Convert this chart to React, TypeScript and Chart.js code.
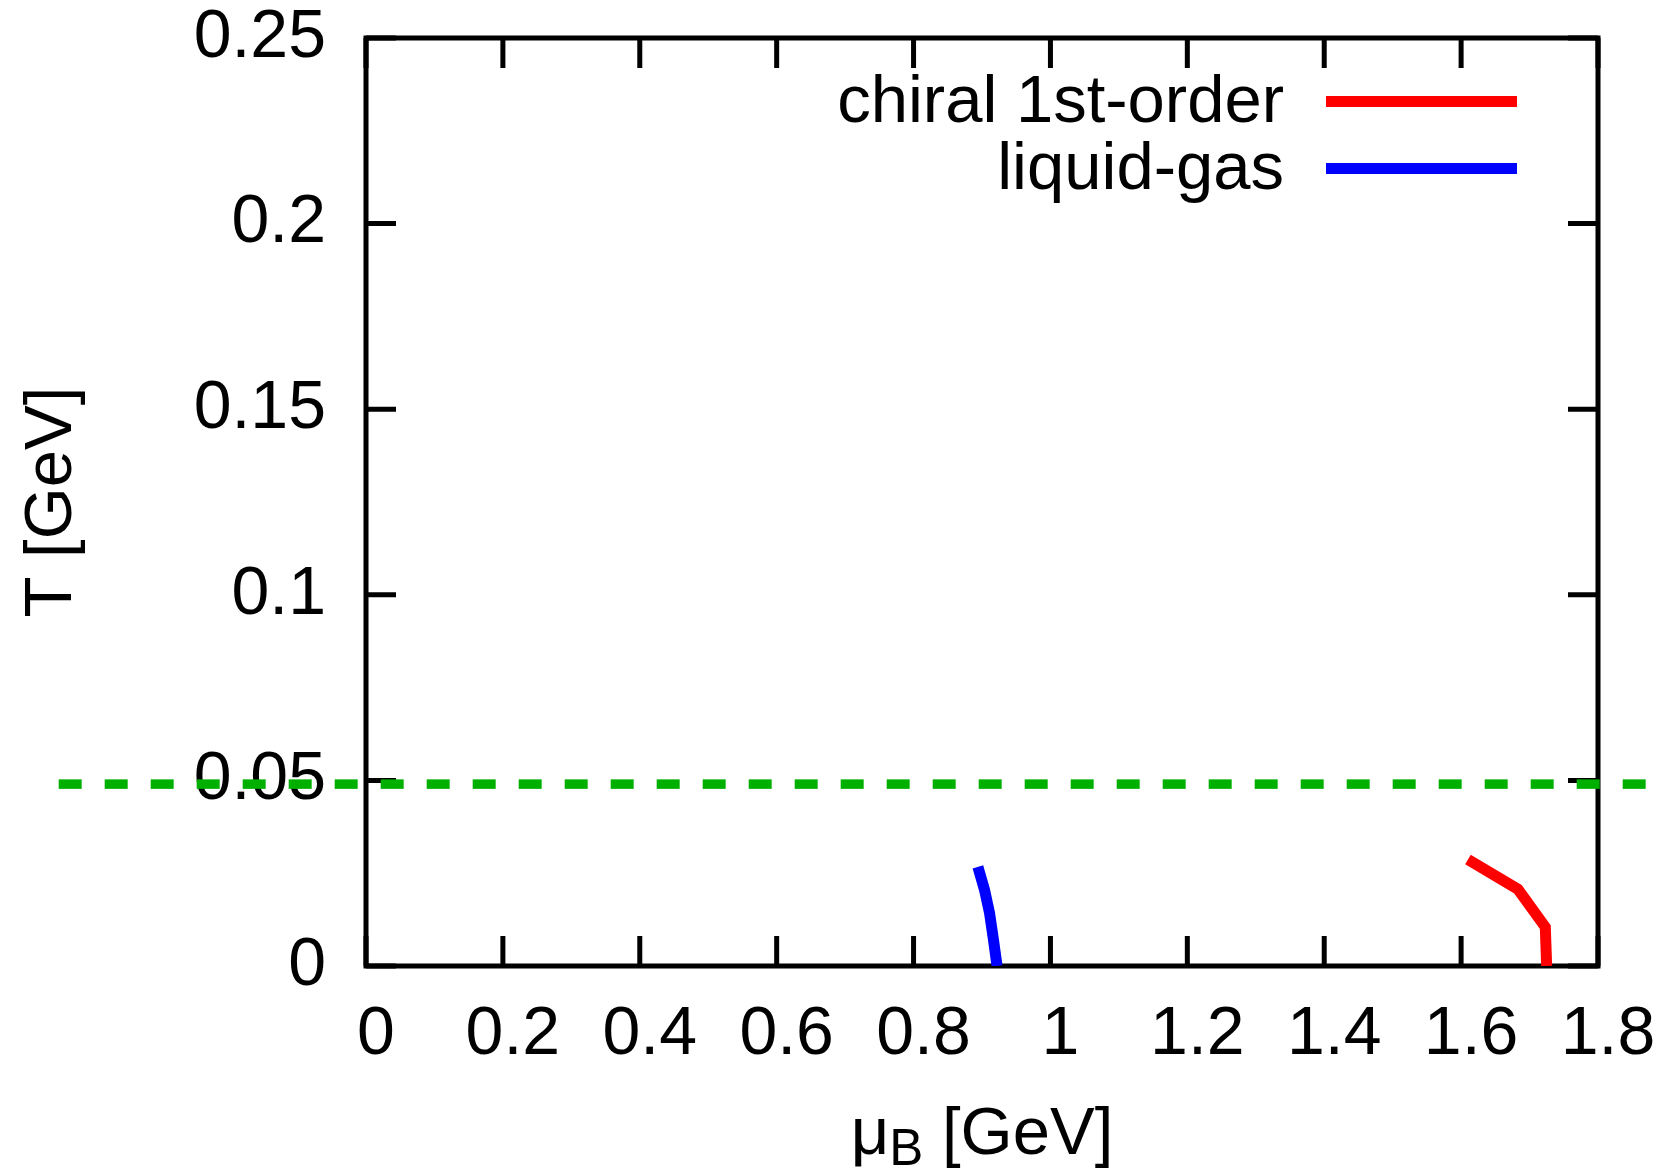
import React, { useEffect, useRef } from 'react';
import { Chart, registerables } from 'chart.js';

Chart.register(...registerables);

// ---- data ----
const xTickValues = [0, 0.2, 0.4, 0.6, 0.8, 1.0, 1.2, 1.4, 1.6, 1.8];
const xTickLabels = ['0', '0.2', '0.4', '0.6', '0.8', '1', '1.2', '1.4', '1.6', '1.8'];
const yTickValues = [0, 0.05, 0.1, 0.15, 0.2, 0.25];
const yTickLabels = ['0', '0.05', '0.1', '0.15', '0.2', '0.25'];

const chiralMu = [1.61, 1.683, 1.723, 1.725];
const chiralT = [0.0287, 0.0207, 0.0105, 0.0];
const liquidGasMu = [0.894, 0.9037, 0.911, 0.9168, 0.922];
const liquidGasT = [0.0267, 0.0205, 0.0143, 0.007, 0.0];
const refLineMu = [-0.449, 1.87];
const refLineT = [0.049, 0.049];

const seriesLabels = ['chiral 1st-order', 'liquid-gas'];
const seriesColors = ['#ff0000', '#0000ff'];
const refColor = '#00b000';

const xTitleMain = 'μ';
const xTitleSub = 'B';
const xTitleRest = ' [GeV]';
const yTitleText = 'T [GeV]';

const FONT = '"Liberation Sans", Arial, sans-serif';
const FS_TICK = 68;
const FS = 67;
const TICK = 30;

const toPoints = (xs: number[], ys: number[]) => xs.map((x, i) => ({ x, y: ys[i] }));

const frameTicksPlugin = {
  id: 'frameTicks',
  beforeDatasetsDraw(chart: any) {
    const { ctx, chartArea, scales } = chart;
    const { left, right, top, bottom } = chartArea;
    const xs = scales.x;
    const ys = scales.y;
    ctx.save();
    ctx.strokeStyle = '#000';
    ctx.lineWidth = 5;
    ctx.lineCap = 'butt';
    ctx.beginPath();
    xTickValues.forEach((v) => {
      const px = xs.getPixelForValue(v);
      ctx.moveTo(px, bottom);
      ctx.lineTo(px, bottom - TICK);
      ctx.moveTo(px, top);
      ctx.lineTo(px, top + TICK);
    });
    yTickValues.forEach((v) => {
      const py = ys.getPixelForValue(v);
      ctx.moveTo(left, py);
      ctx.lineTo(left + TICK, py);
      ctx.moveTo(right, py);
      ctx.lineTo(right - TICK, py);
    });
    ctx.stroke();
    ctx.lineJoin = 'miter';
    ctx.strokeRect(left, top, right - left, bottom - top);
    ctx.restore();
  },
};

const legendPlugin = {
  id: 'gpLegend',
  afterDatasetsDraw(chart: any) {
    const { ctx, chartArea } = chart;
    const { right, top } = chartArea;
    const rows = [63.5, 130.5];
    ctx.save();
    ctx.font = `${FS}px ${FONT}`;
    ctx.textAlign = 'right';
    ctx.textBaseline = 'middle';
    chart.data.datasets.forEach((ds: any, i: number) => {
      if (!ds.label) return;
      const y = top + rows[i];
      ctx.fillStyle = '#000';
      ctx.fillText(ds.label, right - 314, y + 2);
      ctx.strokeStyle = ds.borderColor;
      ctx.lineWidth = ds.borderWidth;
      ctx.lineCap = 'butt';
      ctx.beginPath();
      ctx.moveTo(right - 272, y);
      ctx.lineTo(right - 81, y);
      ctx.stroke();
    });
    ctx.restore();
  },
};

const xTitlePlugin = {
  id: 'xTitle',
  afterDraw(chart: any) {
    const { ctx, chartArea } = chart;
    const cx = (chartArea.left + chartArea.right) / 2;
    const baseY = 1154;
    const subFS = 51;
    ctx.save();
    ctx.fillStyle = '#000';
    ctx.textBaseline = 'alphabetic';
    ctx.textAlign = 'left';
    ctx.font = `${FS}px ${FONT}`;
    const w1 = ctx.measureText(xTitleMain).width;
    const w3 = ctx.measureText(xTitleRest).width;
    ctx.font = `${subFS}px ${FONT}`;
    const w2 = ctx.measureText(xTitleSub).width;
    let x = cx - (w1 + w2 + w3) / 2;
    ctx.font = `${FS}px ${FONT}`;
    ctx.fillText(xTitleMain, x, baseY);
    x += w1;
    ctx.font = `${subFS}px ${FONT}`;
    ctx.fillText(xTitleSub, x, baseY + 11);
    x += w2;
    ctx.font = `${FS}px ${FONT}`;
    ctx.fillText(xTitleRest, x, baseY);
    ctx.restore();
  },
};

export default function App() {
  const canvasRef = useRef<HTMLCanvasElement | null>(null);

  useEffect(() => {
    if (!canvasRef.current) return;
    const chart = new Chart(canvasRef.current, {
      type: 'scatter',
      data: {
        datasets: [
          {
            label: seriesLabels[0],
            data: toPoints(chiralMu, chiralT),
            showLine: true,
            borderColor: seriesColors[0],
            backgroundColor: seriesColors[0],
            borderWidth: 11,
            pointRadius: 0,
            tension: 0,
          },
          {
            label: seriesLabels[1],
            data: toPoints(liquidGasMu, liquidGasT),
            showLine: true,
            borderColor: seriesColors[1],
            backgroundColor: seriesColors[1],
            borderWidth: 11,
            pointRadius: 0,
            tension: 0,
          },
          {
            label: '',
            data: toPoints(refLineMu, refLineT),
            showLine: true,
            borderColor: refColor,
            backgroundColor: refColor,
            borderWidth: 9.5,
            borderDash: [23, 23],
            pointRadius: 0,
            clip: false as any,
          },
        ],
      },
      options: {
        animation: false,
        responsive: false,
        devicePixelRatio: 1,
        layout: { padding: { left: 0, top: 38, right: 70, bottom: 0 } },
        plugins: {
          legend: { display: false },
          tooltip: { enabled: false },
        },
        scales: {
          x: {
            type: 'linear',
            position: 'bottom',
            min: 0,
            max: 1.8,
            grid: { display: false, drawTicks: false },
            border: { display: false },
            afterBuildTicks: (scale: any) => {
              scale.ticks = xTickValues.map((v) => ({ value: v }));
            },
            afterFit: (scale: any) => {
              scale.height = 206;
              scale.paddingLeft = 0;
              scale.paddingRight = 0;
            },
            ticks: {
              autoSkip: false,
              maxRotation: 0,
              padding: 28,
              labelOffset: 10,
              color: '#000',
              font: { family: FONT, size: FS_TICK },
              callback: (_v: any, i: number) => xTickLabels[i],
            },
          },
          y: {
            type: 'linear',
            position: 'left',
            min: 0,
            max: 0.25,
            grid: { display: false, drawTicks: false },
            border: { display: false },
            afterBuildTicks: (scale: any) => {
              scale.ticks = yTickValues.map((v) => ({ value: v }));
            },
            afterFit: (scale: any) => {
              scale.width = 366;
              scale.paddingTop = 0;
              scale.paddingBottom = 0;
            },
            title: {
              display: true,
              text: yTitleText,
              color: '#000',
              font: { family: FONT, size: FS },
              padding: { top: 12, bottom: 0 },
            },
            ticks: {
              autoSkip: false,
              padding: 40,
              color: '#000',
              font: { family: FONT, size: FS_TICK },
              callback: (_v: any, i: number) => yTickLabels[i],
            },
          },
        },
      },
      plugins: [frameTicksPlugin, legendPlugin, xTitlePlugin],
    });
    return () => chart.destroy();
  }, []);

  return (
    <div style={{ position: 'absolute', left: 0, top: 0, width: 1668, height: 1172, background: '#fff' }}>
      <canvas ref={canvasRef} width={1668} height={1172} style={{ display: 'block', width: 1668, height: 1172 }} />
    </div>
  );
}
